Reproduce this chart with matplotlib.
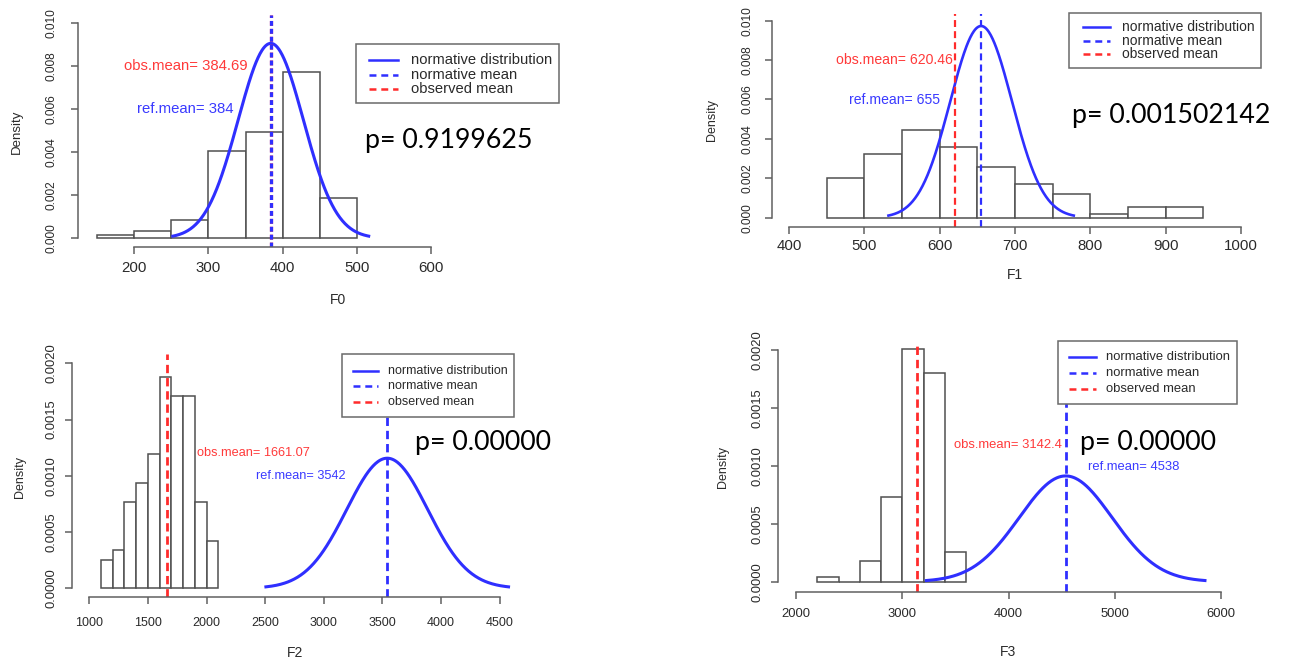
import numpy as np
import matplotlib.pyplot as plt
from matplotlib.patches import Rectangle
from matplotlib.lines import Line2D

plt.rcParams['font.family'] = ['Liberation Sans', 'DejaVu Sans']
plt.rcParams['lines.scale_dashes'] = False

# histogram densities
f0_edges = [150, 200, 250, 300, 350, 400, 450, 500]
f0_density = [0.00014, 0.00033, 0.00084, 0.00407, 0.00494, 0.00773, 0.00186]

f1_edges = [450, 500, 550, 600, 650, 700, 750, 800, 850, 900, 950]
f1_density = [0.00203, 0.00323, 0.00445, 0.00359, 0.00259, 0.00173,
              0.00120, 0.00020, 0.00052, 0.00052]

f2_edges = [1100, 1200, 1300, 1400, 1500, 1600, 1700, 1800, 1900, 2000, 2100]
f2_density = [0.00025, 0.00034, 0.00077, 0.00094, 0.00119, 0.00188,
              0.00171, 0.00171, 0.00077, 0.00042]

f3_edges = [2200, 2400, 2600, 2800, 3000, 3200, 3400, 3600]
f3_density = [0.000043, 0.0, 0.000178, 0.000734, 0.00201, 0.00180, 0.000259]

hist_edges = [f0_edges, f1_edges, f2_edges, f3_edges]
hist_density = [f0_density, f1_density, f2_density, f3_density]

formants = ['F0', 'F1', 'F2', 'F3']
obs_means = [384.69, 620.46, 1661.07, 3142.4]
ref_means = [384, 655, 3542, 4538]
ref_sds = [44, 41, 345, 437]          # normative sd, from the curve peak height
p_values = ['0.9199625', '0.001502142', '0.00000', '0.00000']

x_ticks = [[200, 300, 400, 500, 600],
           [400, 500, 600, 700, 800, 900, 1000],
           [1000, 1500, 2000, 2500, 3000, 3500, 4000, 4500],
           [2000, 3000, 4000, 5000, 6000]]
y_ticks = [[0, 0.002, 0.004, 0.006, 0.008, 0.010],
           [0, 0.002, 0.004, 0.006, 0.008, 0.010],
           [0, 0.0005, 0.0010, 0.0015, 0.0020],
           [0, 0.0005, 0.0010, 0.0015, 0.0020]]
y_ticklabels = [['0.000', '0.002', '0.004', '0.006', '0.008', '0.010'],
                ['0.000', '0.002', '0.004', '0.006', '0.008', '0.010'],
                ['0.0000', '0.0005', '0.0010', '0.0015', '0.0020'],
                ['0.0000', '0.0005', '0.0010', '0.0015', '0.0020']]

legend_labels = ['normative distribution', 'normative mean', 'observed mean']

BLUE = '#2f2fff'
RED = '#ff2b2b'
EDGE = '#505050'
AXC = '#606060'
TXT = '#2a2a2a'

W, H = 1289, 661

# where each R plot sits in the pasted picture (pixels from top-left)
panels = [
    dict(rect=(78, 598, 247, 15), xref=(200, 134.3, 600, 431.0), yref=(0, 238.3, 0.010, 23.3),
         xfs=10.8, yfs=8.6, xpad=5.0, ypad=9.5, lw_curve=2.2, lw_mean=2.3, dash=(3.5, 2.2),
         obs_txt=(353, 0.008, 'right'), ref_txt=(334, 0.006, 'right'), txt_fs=10.7,
         p_xy=(365, 148.3), ylab_xy=(17, 132), xlab_xy=(338, 300), lab_fs=9.5,
         legend=dict(box=(356, 44, 558.7, 103.3), sample=(369, 398), text_x=411,
                     rows=(60, 75, 89.3), fs=10.6)),
    dict(rect=(771.7, 1259, 226.7, 14), xref=(400, 789.0, 1000, 1241.0), yref=(0, 217.7, 0.010, 20.7),
         xfs=10.8, yfs=8.6, xpad=4.2, ypad=8.3, lw_curve=1.9, lw_mean=1.6, dash=(5, 3),
         obs_txt=(618, 0.008, 'right'), ref_txt=(600, 0.006, 'right'), txt_fs=10.1,
         p_xy=(1071.7, 122.5), ylab_xy=(711.7, 120), xlab_xy=(1015, 275), lab_fs=9,
         legend=dict(box=(1069, 12.7, 1260.7, 67.7), sample=(1082.7, 1110), text_x=1121.7,
                     rows=(26.7, 40.7, 54), fs=10.0)),
    dict(rect=(71.7, 518, 596.7, 354), xref=(1000, 89.3, 4500, 499.5), yref=(0, 588.3, 0.002, 363.3),
         xfs=9.0, yfs=9.4, xpad=9.4, ypad=5.5, lw_curve=2.2, lw_mean=2.0, dash=(6, 3.5),
         obs_txt=(1919, 0.0012, 'left'), ref_txt=(3190, 0.001, 'right'), txt_fs=9.2,
         p_xy=(415, 450), ylab_xy=(20, 476.7), xlab_xy=(295, 652.7), lab_fs=9,
         legend=dict(box=(342.3, 354.3, 514.3, 416.7), sample=(353, 378), text_x=388.3,
                     rows=(370.7, 386, 401.7), fs=9.0)),
    dict(rect=(778.3, 1238, 591.7, 342), xref=(2000, 796.0, 6000, 1221.0), yref=(0, 581.7, 0.002, 350.0),
         xfs=9.4, yfs=9.4, xpad=6.9, ypad=5.5, lw_curve=2.2, lw_mean=2.0, dash=(6, 3.5),
         obs_txt=(4500, 0.00118, 'right'), ref_txt=(4748, 0.00099, 'left'), txt_fs=9.4,
         p_xy=(1080, 450), ylab_xy=(723, 466.7), xlab_xy=(1008, 652), lab_fs=9,
         legend=dict(box=(1058.3, 340.7, 1237.3, 404), sample=(1069, 1096), text_x=1106,
                     rows=(356.7, 373.3, 389.3), fs=9.4)),
]


def to_data(p, ref):
    d0, p0, d1, p1 = ref
    return d0 + (p - p0) * (d1 - d0) / (p1 - p0)


fig = plt.figure(figsize=(W / 100, H / 100), dpi=100)

for i, lay in enumerate(panels):
    L, R, B, T = lay['rect']
    ax = fig.add_axes([L / W, 1 - B / H, (R - L) / W, (B - T) / H])
    ax.set_xlim(to_data(L, lay['xref']), to_data(R, lay['xref']))
    ax.set_ylim(to_data(B, lay['yref']), to_data(T, lay['yref']))

    # histogram
    edges = np.array(hist_edges[i])
    ax.bar(edges[:-1], hist_density[i], width=np.diff(edges), align='edge',
           facecolor='white', edgecolor=EDGE, linewidth=1.1)

    # normative distribution
    mu, sd = ref_means[i], ref_sds[i]
    xs = np.linspace(mu - 3 * sd, mu + 3 * sd, 300)
    ax.plot(xs, np.exp(-0.5 * ((xs - mu) / sd) ** 2) / (sd * np.sqrt(2 * np.pi)),
            color=BLUE, lw=lay['lw_curve'])

    # means
    ax.axvline(obs_means[i], color=RED, lw=lay['lw_mean'], linestyle=(0, lay['dash']))
    ax.axvline(ref_means[i], color=BLUE, lw=lay['lw_mean'], linestyle=(0, lay['dash']))

    ox, oy, oha = lay['obs_txt']
    ax.text(ox, oy, f'obs.mean= {obs_means[i]}', color='#ff3a3a', ha=oha, va='center',
            fontsize=lay['txt_fs'])
    rx, ry, rha = lay['ref_txt']
    ax.text(rx, ry, f'ref.mean= {ref_means[i]}', color='#3a3aff', ha=rha, va='center',
            fontsize=lay['txt_fs'])

    # R-style detached axes
    ax.patch.set_alpha(0)
    for s in ['top', 'right']:
        ax.spines[s].set_visible(False)
    for s in ['left', 'bottom']:
        ax.spines[s].set_color(AXC)
        ax.spines[s].set_linewidth(1.1)
    xt, yt = x_ticks[i], y_ticks[i]
    ax.spines['left'].set_bounds(yt[0], yt[-1])
    ax.spines['bottom'].set_bounds(xt[0], xt[-1])
    ax.set_xticks(xt, [str(v) for v in xt])
    ax.set_yticks(yt, y_ticklabels[i])
    ax.tick_params(axis='x', length=5, width=1.1, color=AXC, labelcolor=TXT,
                   labelsize=lay['xfs'], pad=lay['xpad'])
    ax.tick_params(axis='y', length=5, width=1.1, color=AXC, labelcolor=TXT,
                   labelsize=lay['yfs'], pad=lay['ypad'], labelrotation=90)
    for lab in ax.get_yticklabels():
        lab.set_verticalalignment('center')

    lx, ly = lay['ylab_xy']
    fig.text(lx / W, 1 - ly / H, 'Density', rotation=90, ha='center', va='center',
             fontsize=lay['lab_fs'], color=TXT)
    lx, ly = lay['xlab_xy']
    fig.text(lx / W, 1 - ly / H, formants[i], ha='center', va='center',
             fontsize=10, color=TXT)

    # legend box drawn the way R's legend() lays it out
    lg = lay['legend']
    x0, y0, x1, y1 = lg['box']
    fig.add_artist(Rectangle((x0 / W, 1 - y1 / H), (x1 - x0) / W, (y1 - y0) / H,
                             transform=fig.transFigure, facecolor='white',
                             edgecolor='#6a6a6a', lw=1.1))
    styles = [(BLUE, '-'), (BLUE, (0, (5, 3.5))), (RED, (0, (5, 3.5)))]
    s0, s1 = lg['sample']
    for label, (col, ls), row in zip(legend_labels, styles, lg['rows']):
        fig.add_artist(Line2D([s0 / W, s1 / W], [1 - row / H, 1 - row / H],
                              transform=fig.transFigure, color=col, lw=1.8, linestyle=ls))
        fig.text(lg['text_x'] / W, 1 - row / H, label, ha='left', va='center',
                 fontsize=lg['fs'], color=TXT)

    # p-value pasted next to each plot
    px, py = lay['p_xy']
    fig.text(px / W, 1 - py / H, 'p= ' + p_values[i], ha='left', va='baseline',
             fontsize=19.3, family=['Lato', 'DejaVu Sans'], color='black')

fig.savefig('out.png', dpi=100)
